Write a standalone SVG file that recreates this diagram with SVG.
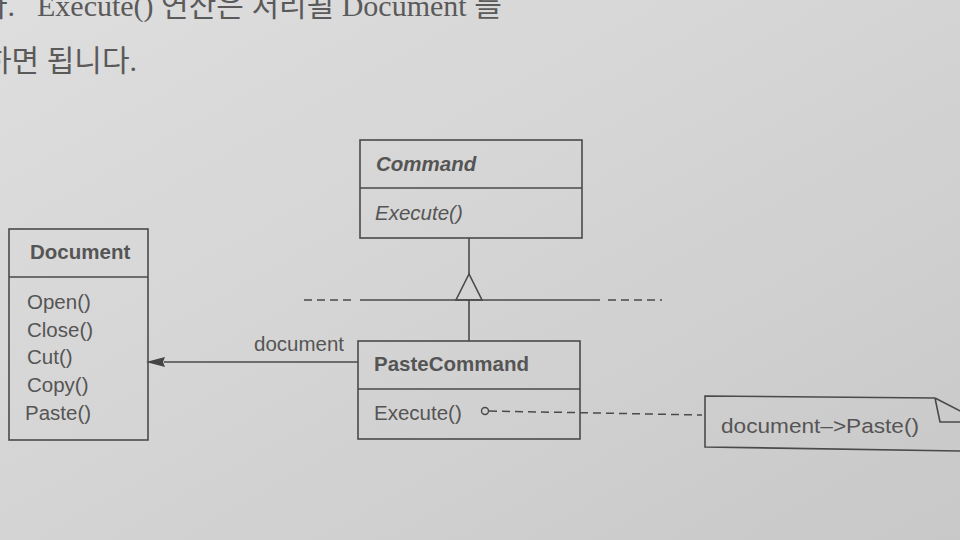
<svg xmlns="http://www.w3.org/2000/svg" width="960" height="540" viewBox="0 0 960 540">
<defs>
<linearGradient id="bg" x1="0" y1="0" x2="1" y2="1">
<stop offset="0" stop-color="#dedede"/>
<stop offset="0.5" stop-color="#d5d4d4"/>
<stop offset="1" stop-color="#c9c8c8"/>
</linearGradient>
<style>
.box{fill:none;stroke:#4a4a4a;stroke-width:1.6}
.ln{fill:none;stroke:#4a4a4a;stroke-width:1.6}
.dash{fill:none;stroke:#4a4a4a;stroke-width:1.5;stroke-dasharray:8 5}
.t{font-family:"Liberation Sans",Arial,sans-serif;fill:#555;font-size:20.5px}
.b{font-weight:bold}
.i{font-style:italic}
.page{font-family:"Liberation Serif","Noto Sans CJK KR",serif;fill:#5a5a5a;font-size:30px}
</style>
</defs>
<rect width="960" height="540" fill="url(#bg)"/>

<text class="page" x="-20" y="16">다.</text>
<text class="page" x="37" y="16">Execute() 연산은 처리될 Document 를</text>
<text class="page" x="-16" y="71">하면 됩니다.</text>

<g id="connectors">
<line class="ln" x1="164" y1="362" x2="358" y2="362"/>
<path d="M146,362 L165,357 L163,362 L165,367 Z" fill="#444"/>
<text class="t" x="254" y="351" font-size="21.3">document</text>
<line class="ln" x1="469" y1="238" x2="469" y2="274"/>
<path class="ln" d="M469,274 L456,300 L482,300 Z"/>
<line class="ln" x1="360" y1="300" x2="600" y2="300"/>
<line class="dash" x1="304" y1="300" x2="356" y2="300"/>
<line class="dash" x1="608" y1="300" x2="662" y2="300"/>
<line class="ln" x1="469" y1="300" x2="469" y2="341"/>
<circle cx="485" cy="411" r="3.5" fill="none" stroke="#4a4a4a" stroke-width="1.4"/>
<line class="dash" x1="489" y1="411" x2="702" y2="415"/>
</g>

<g id="command">
<rect class="box" x="360" y="140" width="222" height="98"/>
<line class="ln" x1="360" y1="188" x2="582" y2="188"/>
<text class="t b i" x="376" y="171">Command</text>
<text class="t i" x="375" y="220">Execute()</text>
</g>

<g id="document">
<rect class="box" x="9" y="229" width="139" height="211"/>
<line class="ln" x1="9" y1="277" x2="148" y2="277"/>
<text class="t b" x="30" y="259">Document</text>
<text class="t" x="27" y="309">Open()</text>
<text class="t" x="27" y="337">Close()</text>
<text class="t" x="27" y="364">Cut()</text>
<text class="t" x="27" y="392">Copy()</text>
<text class="t" x="25" y="420">Paste()</text>
</g>

<g id="pastecommand">
<rect class="box" x="358" y="341" width="222" height="98"/>
<line class="ln" x1="358" y1="389" x2="580" y2="389"/>
<text class="t b" x="374" y="371">PasteCommand</text>
<text class="t" x="374" y="420">Execute()</text>
</g>

<g id="note">
<path class="ln" d="M935,398 L705,396 L705,447 L962,451"/>
<path class="ln" d="M935,398 L940,422 L962,422 M935,398 L962,412"/>
<text class="t" x="721" y="433" font-size="23" textLength="198" lengthAdjust="spacingAndGlyphs">document–&gt;Paste()</text>
</g>
</svg>
